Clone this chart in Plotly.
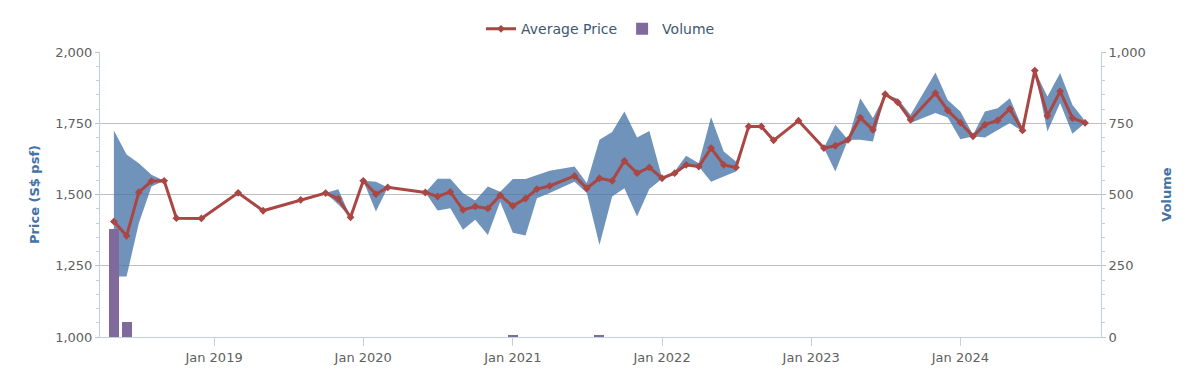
import plotly.graph_objects as go

months = ["2018-05", "2018-06", "2018-07", "2018-08", "2018-09", "2018-10", "2018-12",
          "2019-03", "2019-05", "2019-08", "2019-10", "2019-11", "2019-12",
          "2020-01", "2020-02", "2020-03", "2020-06", "2020-07", "2020-08", "2020-09",
          "2020-10", "2020-11", "2020-12",
          "2021-01", "2021-02", "2021-03", "2021-04", "2021-06", "2021-07", "2021-08",
          "2021-09", "2021-10", "2021-11", "2021-12",
          "2022-01", "2022-02", "2022-03", "2022-04", "2022-05", "2022-06", "2022-07",
          "2022-08", "2022-09", "2022-10", "2022-12",
          "2023-02", "2023-03", "2023-04", "2023-05", "2023-06", "2023-07", "2023-08",
          "2023-09", "2023-11", "2023-12",
          "2024-01", "2024-02", "2024-03", "2024-04", "2024-05", "2024-06", "2024-07",
          "2024-08", "2024-09", "2024-10", "2024-11"]

avg_price = [1405, 1355, 1508, 1547, 1548, 1417, 1416,
             1506, 1443, 1481, 1505, 1485, 1420,
             1548, 1501, 1525, 1507, 1493, 1509, 1446, 1458, 1451, 1497,
             1460, 1486, 1519, 1530, 1565, 1522, 1557, 1548, 1618, 1575, 1595,
             1557, 1575, 1604, 1598, 1663, 1604, 1595, 1739, 1739, 1690, 1759,
             1663, 1671, 1692, 1770, 1727, 1852, 1823, 1762, 1856, 1795,
             1752, 1704, 1745, 1760, 1800, 1725, 1935, 1776, 1862, 1768, 1751]

low_price = [1212, 1212, 1399, 1528, 1548, 1417, 1416,
             1506, 1443, 1481, 1505, 1465, 1420,
             1548, 1440, 1525, 1507, 1444, 1452, 1376, 1411, 1358, 1475,
             1366, 1356, 1487, 1505, 1545, 1505, 1323, 1493, 1522, 1423, 1519,
             1555, 1570, 1597, 1598, 1545, 1563, 1581, 1739, 1739, 1690, 1759,
             1663, 1581, 1692, 1692, 1686, 1852, 1821, 1751, 1786, 1770,
             1694, 1704, 1700, 1727, 1751, 1721, 1935, 1721, 1821, 1713, 1751]

high_price = [1725, 1640, 1610, 1569, 1548, 1417, 1416,
              1506, 1443, 1481, 1505, 1518, 1420,
              1548, 1545, 1525, 1507, 1555, 1555, 1505, 1479, 1528, 1510,
              1554, 1554, 1569, 1583, 1598, 1540, 1692, 1719, 1791, 1700, 1723,
              1560, 1582, 1636, 1610, 1772, 1651, 1616, 1739, 1739, 1690, 1759,
              1663, 1745, 1692, 1838, 1768, 1852, 1836, 1780, 1928, 1832,
              1791, 1710, 1791, 1803, 1838, 1733, 1935, 1844, 1926, 1815, 1758]

vol_months = ["2018-05", "2018-06", "2021-01", "2021-08"]
volume = [379, 52, 4, 4]

tick_years = ["2019", "2020", "2021", "2022", "2023", "2024"]

dates = [m + "-01" for m in months]
vol_dates = [m + "-01" for m in vol_months]
tick_vals = [y + "-01-01" for y in tick_years]
tick_text = ["Jan " + y for y in tick_years]

FONT = "DejaVu Sans"
AXIS_COL = "#C0D0E0"
LABEL_COL = "#606060"
TITLE_COL = "#4572A7"

fig = go.Figure()

# Range band (price axis base)
fig.add_trace(go.Scatter(x=dates, y=high_price, mode="lines", line=dict(width=0),
                         hoverinfo="skip", showlegend=False, yaxis="y"))
fig.add_trace(go.Scatter(x=dates, y=low_price, mode="lines", line=dict(width=0),
                         fill="tonexty", fillcolor="rgba(69,114,167,0.77)",
                         hoverinfo="skip", showlegend=False, yaxis="y"))

# Volume bars
fig.add_trace(go.Bar(x=vol_dates, y=volume, name="Volume", marker=dict(color="#80699B", line=dict(width=0)),
                     width=24.5 * 86400000, yaxis="y2", legendrank=2))

# Average price line
fig.add_trace(go.Scatter(x=dates, y=avg_price, name="Average Price", mode="lines+markers",
                         line=dict(color="#AA4643", width=3),
                         marker=dict(symbol="diamond", size=6, color="#AA4643"),
                         yaxis="y3", legendrank=1))

fig.update_layout(
    width=1192, height=371,
    margin=dict(l=92, r=99, t=44, b=42, autoexpand=False),
    paper_bgcolor="white", plot_bgcolor="white",
    font=dict(family=FONT, size=13, color=LABEL_COL),
    showlegend=True,
    legend=dict(orientation="h", x=0.5, xanchor="center", y=1.08, yanchor="middle",
                font=dict(family=FONT, size=14, color="#3E576F"), traceorder="normal",
                itemwidth=30),
    bargap=0,
    xaxis=dict(type="date", range=["2018-03-28", "2024-12-10"],
               tickvals=tick_vals, ticktext=tick_text, automargin=False,
               showgrid=False, showline=True, linecolor=AXIS_COL, linewidth=1,
               ticks="outside", ticklen=8, tickcolor=AXIS_COL,
               tickfont=dict(family=FONT, size=13, color=LABEL_COL), zeroline=False),
    yaxis=dict(range=[1000, 2000], tickvals=[1000, 1250, 1500, 1750, 2000], automargin=False,
               tickformat=",d", showgrid=True, gridcolor="#C0C0C0", gridwidth=1,
               showline=True, linecolor=AXIS_COL, linewidth=1,
               ticks="outside", ticklen=4, tickcolor="#C0C0C0",
               minor=dict(ticks="outside", ticklen=3, tickcolor=AXIS_COL, dtick=50, tick0=1000, showgrid=False),
               tickfont=dict(family=FONT, size=13, color=LABEL_COL),
               title=dict(text="<b>Price (S$ psf)</b>", font=dict(family=FONT, size=13, color=TITLE_COL), standoff=12),
               zeroline=False, fixedrange=True),
    yaxis2=dict(range=[0, 1000], tickvals=[0, 250, 500, 750, 1000], tickformat=",d", automargin=False,
                overlaying="y", side="right", showgrid=False,
                showline=True, linecolor=AXIS_COL, linewidth=1,
                ticks="outside", ticklen=4, tickcolor="#C0C0C0",
                minor=dict(ticks="outside", ticklen=3, tickcolor=AXIS_COL, dtick=50, tick0=0, showgrid=False),
                tickfont=dict(family=FONT, size=13, color=LABEL_COL),
                title=dict(text="<b>Volume</b>", font=dict(family=FONT, size=13, color=TITLE_COL), standoff=17),
                zeroline=False),
    yaxis3=dict(range=[1000, 2000], overlaying="y", visible=False, showgrid=False, zeroline=False),
)

fig.write_html("out.html")
